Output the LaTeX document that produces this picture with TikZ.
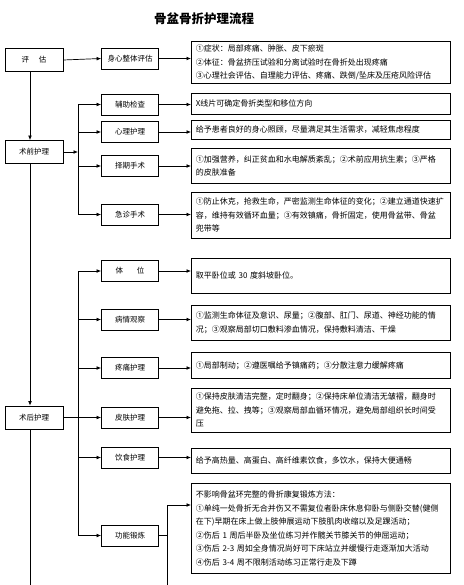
\documentclass[tikz,border=0pt]{standalone}
\usepackage{fontspec}
\setmainfont{Noto Sans CJK SC}
\usetikzlibrary{arrows.meta}
\begin{document}
\begin{tikzpicture}[x=1pt,y=-1pt,
  lbox/.style={draw,line width=0.8pt,minimum width=58pt,minimum height=23pt,inner sep=1pt,font=\fontsize{7.5}{9}\selectfont},
  mbox/.style={draw,line width=0.8pt,minimum width=57pt,minimum height=21pt,inner sep=1pt,font=\fontsize{7.5}{9}\selectfont},
  rbox/.style={draw,line width=0.8pt,anchor=north west,text width=250pt,inner xsep=4.5pt,inner ysep=3pt,align=left,font=\fontsize{8}{13.5}\selectfont},
  conn/.style={line width=0.7pt},
  arr/.style={conn,-{Latex[length=4.5pt,width=3.8pt]}}]
\useasboundingbox[fill=white] (0,0) rectangle (463,585);

\node[font=\fontsize{12.5}{14}\selectfont\bfseries] (title) at (204,19) {骨盆骨折护理流程};

% left column
\node[lbox] (pg) at (34,60) {评\hspace{10pt}估};
\node[lbox] (sq) at (34,152) {术前护理};
\node[lbox] (sh) at (34,417.5) {术后护理};

% middle column
\node[mbox] (m1) at (130,58.5) {身心整体评估};
\node[mbox] (m2) at (130,104.5) {辅助检查};
\node[mbox] (m3) at (130,132) {心理护理};
\node[mbox] (m4) at (130,166) {择期手术};
\node[mbox] (m5) at (130,214.5) {急诊手术};
\node[mbox] (m6) at (130,271) {体\hspace{14pt}位};
\node[mbox] (m7) at (130,319.5) {病情观察};
\node[mbox] (m8) at (130,368) {疼痛护理};
\node[mbox] (m9) at (130,417.5) {皮肤护理};
\node[mbox] (m10) at (130,457.5) {饮食护理};
\node[mbox] (m11) at (130,535.5) {功能锻炼};

% right column
\node[rbox,minimum height=42pt] (r1) at (191,41) {①症状：局部疼痛、肿胀、皮下瘀斑\\②体征：骨盆挤压试验和分离试验时在骨折处出现疼痛\\③心理社会评估、自理能力评估、疼痛、跌倒/坠床及压疮风险评估};
\node[rbox,minimum height=21pt] (r2) at (191,93) {X线片可确定骨折类型和移位方向};
\node[rbox,minimum height=19pt] (r3) at (191,120) {给予患者良好的身心照顾，尽量满足其生活需求，减轻焦虑程度};
\node[rbox,minimum height=35pt] (r4) at (191,148) {①加强营养，纠正贫血和水电解质紊乱；②术前应用抗生素；③严格\\的皮肤准备};
\node[rbox,minimum height=46pt] (r5) at (191,192) {①防止休克，抢救生命，严密监测生命体征的变化；②建立通道快速扩\\容，维持有效循环血量；③有效镇痛，骨折固定，使用骨盆带、骨盆\\兜带等};
\node[rbox,minimum height=35pt] (r6) at (191,258) {取平卧位或 30 度斜坡卧位。};
\node[rbox,minimum height=35pt] (r7) at (191,305) {①监测生命体征及意识、尿量；②腹部、肛门、尿道、神经功能的情\\况；③观察局部切口敷料渗血情况，保持敷料清洁、干燥};
\node[rbox,minimum height=26pt] (r8) at (191,352) {①局部制动；②遵医嘱给予镇痛药；③分散注意力缓解疼痛};
\node[rbox,minimum height=44pt] (r9) at (191,388) {①保持皮肤清洁完整，定时翻身；②保持床单位清洁无皱褶，翻身时\\避免拖、拉、拽等；③观察局部血循环情况，避免局部组织长时间受\\压};
\node[rbox,minimum height=25pt] (r10) at (191,448) {给予高热量、高蛋白、高纤维素饮食，多饮水，保持大便通畅};
\node[rbox,minimum height=90pt] (r11) at (191,483) {不影响骨盆环完整的骨折康复锻炼方法：\\①单纯一处骨折无合并伤又不需复位者卧床休息仰卧与侧卧交替(健侧\\在下)早期在床上做上肢伸展运动下肢肌肉收缩以及足踝活动；\\②伤后 1 周后半卧及坐位练习并作髋关节膝关节的伸屈运动；\\③伤后 2-3 周如全身情况尚好可下床站立并缓慢行走逐渐加大活动\\④伤后 3-4 周不限制活动练习正常行走及下蹲};

% helper coordinates
\coordinate (v) at (30,0);
\coordinate (b) at (78,0);
\coordinate (bottom) at (30,585);
\coordinate (e) at (167,505);
\coordinate (ebot) at (167,585);

% main vertical
\draw[arr] (pg.south -| v) -- (sq.north -| v);
\draw[arr] (sq.south -| v) -- (sh.north -| v);
\draw[conn] (sh.south -| v) -- (bottom);

% assessment
\draw[arr] (pg.east) -- (m1.west);
\draw[arr] (m1.east) -- (m1.east -| r1.west);

% pre-op bus
\draw[arr] (sq.east) -- (sq.east -| b);
\draw[conn] (b |- m2.west) -- (b |- m5.west);
\foreach \m in {m2,m3,m4,m5} \draw[arr] (b |- \m.west) -- (\m.west);
\draw[arr] (m2.east) -- (m2.east -| r2.west);
\draw[arr] (m3.east) -- (m3.east -| r3.west);
\draw[arr] (m4.east) -- (m4.east -| r4.west);
\draw[arr] (m5.east) -- (m5.east -| r5.west);

% post-op bus
\draw[conn] (sh.east) -- (sh.east -| b);
\draw[conn] (b |- m6.west) -- (b |- m11.west);
\foreach \m in {m6,m7,m8,m9,m10,m11} \draw[arr] (b |- \m.west) -- (\m.west);
\draw[arr] (m6.east) -- (m6.east -| r6.west);
\draw[arr] (m7.east) -- (m7.east -| r7.west);
\draw[arr] (m8.east) -- (m8.east -| r8.west);
\draw[arr] (m9.east) -- (m9.east -| r9.west);
\draw[arr] (m10.east) -- (m10.east -| r10.west);

% function exercise elbow
\draw[conn] (m11.east) -- (m11.east -| e);
\draw[conn] (ebot) -- (e);
\draw[arr] (e) -- (e -| r11.west);
\end{tikzpicture}
\end{document}
